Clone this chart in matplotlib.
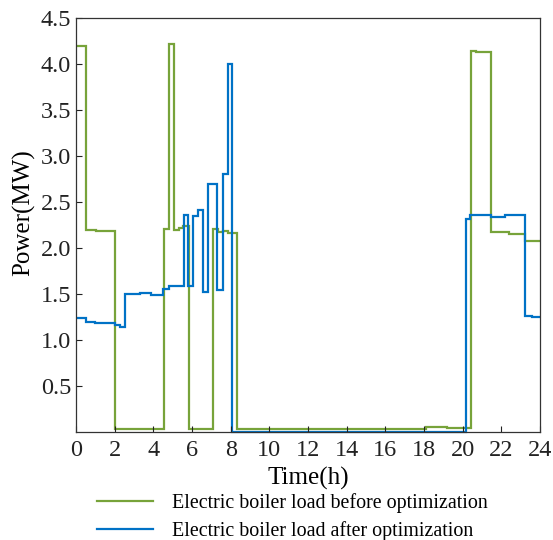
import matplotlib
matplotlib.use("Agg")
import matplotlib.pyplot as plt
from matplotlib.lines import Line2D

plt.rcParams["font.family"] = ["Liberation Serif", "DejaVu Serif"]
plt.rcParams["mathtext.fontset"] = "stix"

# step boundaries (h) and power (MW) for each interval
before_edges = [0, 0.52, 1.03, 2.0, 4.57, 4.79, 5.07, 5.35, 5.55, 5.83, 7.09, 7.33,
                7.62, 7.85, 8.33, 18.1, 19.2, 20.42, 20.7, 21.45, 22.4, 23.23, 24]
before_load = [4.20, 2.20, 2.19, 0.03, 2.21, 4.22, 2.20, 2.22, 2.24, 0.03, 2.21,
               2.17, 2.19, 2.16, 0.03, 0.05, 0.04, 4.14, 4.13, 2.17, 2.15, 2.08]

after_edges = [0, 0.52, 1.0, 2.0, 2.28, 2.53, 3.3, 3.9, 4.52, 4.81, 5.59, 5.81, 6.07,
               6.31, 6.57, 6.81, 7.31, 7.59, 7.85, 8.07, 20.17, 20.38, 21.45, 22.2,
               23.23, 23.57, 24]
after_load = [1.24, 1.20, 1.19, 1.16, 1.14, 1.50, 1.51, 1.49, 1.55, 1.59, 2.36, 1.59,
              2.35, 2.41, 1.52, 2.70, 1.54, 2.80, 4.00, 0.0, 2.31, 2.36, 2.34, 2.36,
              1.26, 1.25]

labels = ["Electric boiler load before optimization",
          "Electric boiler load after optimization"]
green = "#77a33a"
blue = "#0072c6"

fig = plt.figure(figsize=(5.53, 5.4), dpi=100)
ax = fig.add_axes([0.1374, 0.2, 0.8391, 0.7667])

ax.stairs(before_load, before_edges, baseline=None, color=green, linewidth=1.6)
ax.stairs(after_load, after_edges, baseline=None, color=blue, linewidth=1.6,
          clip_on=False)

ax.set_xlim(0, 24)
ax.set_ylim(0, 4.5)
ax.set_xticks(range(0, 25, 2))
ax.set_yticks([0.5, 1.0, 1.5, 2.0, 2.5, 3.0, 3.5, 4.0, 4.5])
ax.set_yticklabels([f"{v:.1f}" for v in ax.get_yticks()])
ax.tick_params(direction="in", labelsize=17.5, length=4, width=0.8, colors="#222222")
ax.tick_params(axis="x", pad=6)
for s in ax.spines.values():
    s.set_color("#333333")
    s.set_linewidth(0.9)

ax.set_xlabel("Time(h)", fontsize=18, labelpad=4)
ax.set_ylabel("Power(MW)", fontsize=18)
ax.yaxis.set_label_coords(-0.088, 0.53)

handles = [Line2D([], [], color=green, linewidth=1.6),
           Line2D([], [], color=blue, linewidth=1.6)]
fig.legend(handles, labels, loc="upper left", bbox_to_anchor=(0.175, 0.087),
           frameon=False, fontsize=14.4, handlelength=2.8, handletextpad=0.95,
           borderpad=0, borderaxespad=0, labelspacing=0.42)

fig.savefig("out.png", dpi=100)
